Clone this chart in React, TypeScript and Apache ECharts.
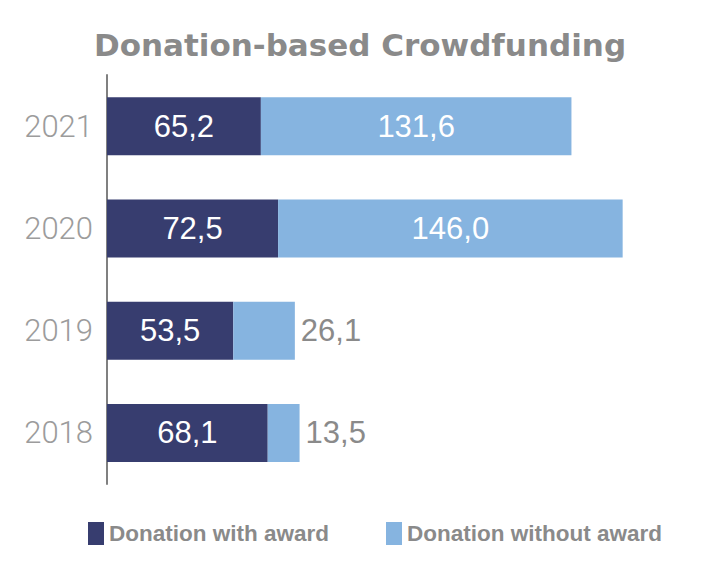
import React, { useEffect, useRef } from "react";
import * as echarts from "echarts";

const years = ["2018", "2019", "2020", "2021"];
const withAward = [68.1, 53.5, 72.5, 65.2];
const withoutAward = [13.5, 26.1, 146.0, 131.6];
const seriesNames = ["Donation with award", "Donation without award"];
const titleText = "Donation-based Crowdfunding";

const fmt = (v: number) => v.toFixed(1).replace(".", ",");

export default function App() {
  const ref = useRef<HTMLDivElement>(null);
  useEffect(() => {
    if (!ref.current) return;
    const chart = echarts.init(ref.current, null, { renderer: "svg" });
    const labelFont = { fontFamily: "Liberation Sans", fontSize: 31 };
    chart.setOption({
      animation: false,
      backgroundColor: "#ffffff",
      graphic: [
        {
          type: "text",
          x: 360,
          y: 29,
          style: {
            text: titleText,
            textAlign: "center",
            fill: "#8a8a8a",
            font: "900 31px 'DejaVu Sans'",
          },
        },
      ],
      legend: {
        left: 88,
        top: 522,
        padding: 0,
        itemWidth: 16,
        itemHeight: 23,
        itemGap: 57,
        icon: "rect",
        textStyle: {
          color: "#8a8a8a",
          fontFamily: "Liberation Sans",
          fontWeight: "bold",
          fontSize: 22.5,
        },
        data: seriesNames,
      },
      grid: { left: 107, top: 75, width: 590, height: 409 },
      xAxis: {
        type: "value",
        min: 0,
        max: 250,
        show: false,
      },
      yAxis: {
        type: "category",
        data: years,
        axisLine: { show: true, lineStyle: { color: "#808080", width: 2 } },
        axisTick: { show: false },
        axisLabel: {
          margin: 14,
          color: "#9c9c9c",
          fontFamily: "Roboto",
          fontWeight: 300,
          fontSize: 31,
        },
      },
      series: [
        {
          name: seriesNames[0],
          type: "bar",
          stack: "total",
          barWidth: 58,
          itemStyle: { color: "#373d6f" },
          label: {
            show: true,
            position: "inside",
            color: "#ffffff",
            ...labelFont,
            formatter: (p: any) => fmt(p.value),
          },
          data: withAward,
        },
        {
          name: seriesNames[1],
          type: "bar",
          stack: "total",
          barWidth: 58,
          itemStyle: { color: "#86b4e0" },
          label: {
            show: true,
            position: "inside",
            color: "#ffffff",
            ...labelFont,
            formatter: (p: any) => fmt(p.value),
          },
          data: withoutAward.map((v) =>
            v < 40
              ? { value: v, label: { position: "right", distance: 6, color: "#8a8a8a" } }
              : v
          ),
        },
      ],
    });
    return () => chart.dispose();
  }, []);
  return (
    <div
      ref={ref}
      style={{ position: "fixed", left: 0, top: 0, width: 702, height: 568 }}
    />
  );
}
